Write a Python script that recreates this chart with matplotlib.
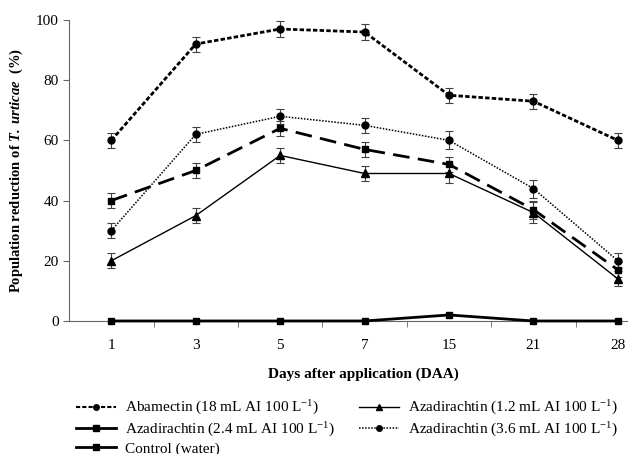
import matplotlib
matplotlib.use("Agg")
import matplotlib.pyplot as plt
from matplotlib.lines import Line2D
import numpy as np

plt.rcParams['font.family'] = ['Liberation Serif', 'DejaVu Serif']
plt.rcParams['mathtext.fontset'] = 'custom'
plt.rcParams['mathtext.rm'] = 'Liberation Serif'
plt.rcParams['mathtext.it'] = 'Liberation Serif:italic'
plt.rcParams['mathtext.bf'] = 'Liberation Serif:bold'
plt.rcParams['mathtext.bfit'] = 'Liberation Serif:italic:bold'

days = ['1', '3', '5', '7', '15', '21', '28']

abamectin = [60, 92, 97, 96, 75, 73, 60]
abamectin_err = [2.5, 2.5, 2.5, 2.5, 2.5, 2.5, 2.5]
aza_12 = [20, 35, 55, 49, 49, 36, 14]
aza_12_err = [2.5, 2.5, 2.5, 2.5, 3, 3.5, 2.5]
aza_24 = [40, 50, 64, 57, 52, 37, 17]
aza_24_err = [2.5, 2.5, 2.5, 2.5, 2.5, 3, 2.5]
aza_36 = [30, 62, 68, 65, 60, 44, 20]
aza_36_err = [2.5, 2.5, 2.5, 2.5, 3, 3, 2.5]
control = [0, 0, 0, 0, 2, 0, 0]

labels = [r'Abamectin (18 mL AI 100 L$^{-1}$)',
          r'Azadirachtin (1.2 mL AI 100 L$^{-1}$)',
          r'Azadirachtin (2.4 mL AI 100 L$^{-1}$)',
          r'Azadirachtin (3.6 mL AI 100 L$^{-1}$)',
          'Control (water)']

x = np.arange(len(days))

fig = plt.figure(figsize=(6.28, 4.54), dpi=100)
ax = fig.add_axes([0.110, 0.293, 0.89, 0.663])

ekw = dict(ecolor='0.25', elinewidth=0.8, capsize=3, capthick=0.8)

ls_abam = (0, (1.6, 0.8))
ls_24 = (0, (6, 3))
ls_36 = (0, (1, 1))

ax.errorbar(x, abamectin, yerr=abamectin_err, color='black', lw=2,
            linestyle=ls_abam, marker='o', ms=5, **ekw)
ax.errorbar(x, aza_24, yerr=aza_24_err, color='black', lw=2,
            linestyle=ls_24, marker='s', ms=5, **ekw)
ax.errorbar(x, aza_12, yerr=aza_12_err, color='black', lw=1,
            linestyle='-', marker='^', ms=6, **ekw)
ax.errorbar(x, aza_36, yerr=aza_36_err, color='black', lw=1.1,
            linestyle=ls_36, marker='o', ms=5, **ekw)
ax.plot(x, control, color='black', lw=2, marker='s', ms=5, clip_on=False, zorder=5)

ax.set_xlim(-0.5, 6.12)
ax.set_ylim(0, 100)
ax.set_yticks([0, 20, 40, 60, 80, 100])
ax.set_xticks(x)
ax.set_xticklabels(days)
ax.set_xticks(x[:-1] + 0.5, minor=True)
ax.tick_params(axis='x', which='major', length=0, pad=13, labelsize=11)
ax.tick_params(axis='x', which='minor', length=4, direction='out', color='0.4')
ax.tick_params(axis='y', length=4, direction='out', color='0.4', labelsize=11)

for s in ['top', 'right']:
    ax.spines[s].set_visible(False)
for s in ['left', 'bottom']:
    ax.spines[s].set_color('0.4')

ax.set_xlabel('Days after application (DAA)', fontsize=11, fontweight='bold')
ax.xaxis.set_label_coords(0.527, -0.155)
ax.set_ylabel(r'Population reduction of $\mathbfit{T.\ urticae}$  (%)', fontsize=10.5,
              fontweight='bold', labelpad=8)

handles = [
    Line2D([], [], color='black', lw=1.5, linestyle=(0, (2, 1)), marker='o', ms=4),
    Line2D([], [], color='black', lw=2, marker='s', ms=4),
    Line2D([], [], color='black', lw=2, marker='s', ms=4),
    Line2D([], [], color='black', lw=1, marker='^', ms=5),
    Line2D([], [], color='black', lw=1.1, linestyle=(0, (1, 1)), marker='o', ms=4),
]
fig.legend(handles, [labels[0], labels[2], labels[4], labels[1], labels[3]],
           ncol=2, loc='upper left', bbox_to_anchor=(0.121, 0.121),
           bbox_transform=fig.transFigure, frameon=False, borderpad=0,
           borderaxespad=0, fontsize=11, handlelength=2.6, columnspacing=1.6,
           labelspacing=0.2, handletextpad=0.6)

fig.savefig('out.png', dpi=100)
